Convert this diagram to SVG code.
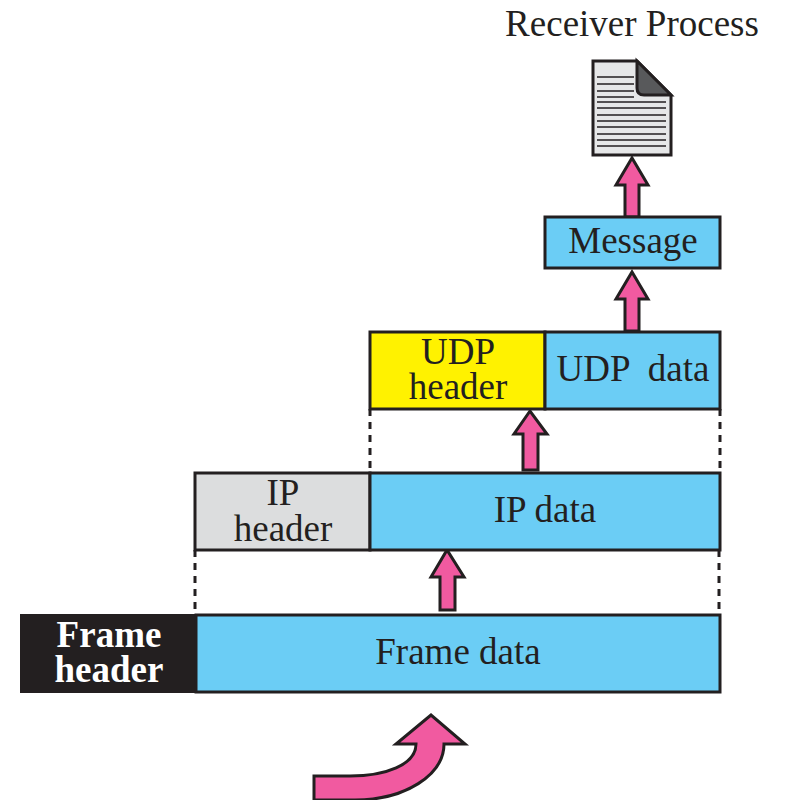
<svg xmlns="http://www.w3.org/2000/svg" width="787" height="800" viewBox="0 0 787 800">
<style>
text{font-family:"Liberation Serif","Times New Roman",serif;fill:#231f20;text-anchor:middle}
.t{font-size:37px}
.box{stroke:#231f20;stroke-width:3}
.blue{fill:#6bcdf5}
.arrow{fill:#f15aa0;stroke:#231f20;stroke-width:3;stroke-linejoin:miter}
.dash{fill:none;stroke:#231f20;stroke-width:3;stroke-dasharray:7 6}
.ln{fill:none;stroke:#231f20;stroke-width:1.3}
</style>
<rect width="787" height="800" fill="#fff"/>
<g id="connectors">
<path class="dash" d="M370 409V472M720 409V472M195 550V613M719 550V613"/>
<path class="arrow" d="M625 217V185H616L632 158L648 185H639V217Z"/>
<path class="arrow" d="M625 331V299H616L632 272L648 299H639V331Z"/>
<path class="arrow" d="M523 470V434H514L530 411L547 434H538V470Z"/>
<path class="arrow" d="M440 610V577H431L447 550L464 577H455V610Z"/>
<path class="arrow" d="M314 800V776H350C385 776 416 765 416 744H396L431 715L465 744H444C444 775 405 800 355 800Z"/>
</g>
<g id="receiver-label"><text class="t" x="632" y="36">Receiver Process</text></g>
<g id="document">
<path d="M593 61H637L671 95V155H593Z" fill="#e6e7e8" stroke="#231f20" stroke-width="3"/>
<path d="M637 61L671 95H644Q637 95 637 88Z" fill="#58595b" stroke="#231f20" stroke-width="3"/>
<path class="ln" d="M597 77H634M597 84H634M597 91H634M597 97H634M597 102H666M597 108H666M597 115H666M597 121H666M597 127H666M597 134H666M597 140H666M597 146H666"/>
</g>
<g id="message"><rect class="box blue" x="545" y="217" width="175" height="51"/><text class="t" x="633" y="253">Message</text></g>
<g id="udp-header"><rect class="box" x="370" y="332" width="175" height="77" fill="#fff200"/><text class="t" x="458" y="364">UDP</text><text class="t" x="458" y="399">header</text></g>
<g id="udp-data"><rect class="box blue" x="545" y="332" width="175" height="77"/><text class="t" x="633" y="381" xml:space="preserve">UDP  data</text></g>
<g id="ip-header"><rect class="box" x="195" y="473" width="175" height="77" fill="#dcddde"/><text class="t" x="283" y="505">IP</text><text class="t" x="283" y="541">header</text></g>
<g id="ip-data"><rect class="box blue" x="370" y="473" width="350" height="77"/><text class="t" x="545" y="522">IP data</text></g>
<g id="frame-header"><rect x="20" y="614" width="177" height="79" fill="#231f20"/><text class="t" x="109" y="647" style="fill:#fff;font-weight:bold">Frame</text><text class="t" x="109" y="682" style="fill:#fff;font-weight:bold">header</text></g>
<g id="frame-data"><rect class="box blue" x="196" y="615" width="524" height="77"/><text class="t" x="458" y="664">Frame data</text></g>
</svg>
